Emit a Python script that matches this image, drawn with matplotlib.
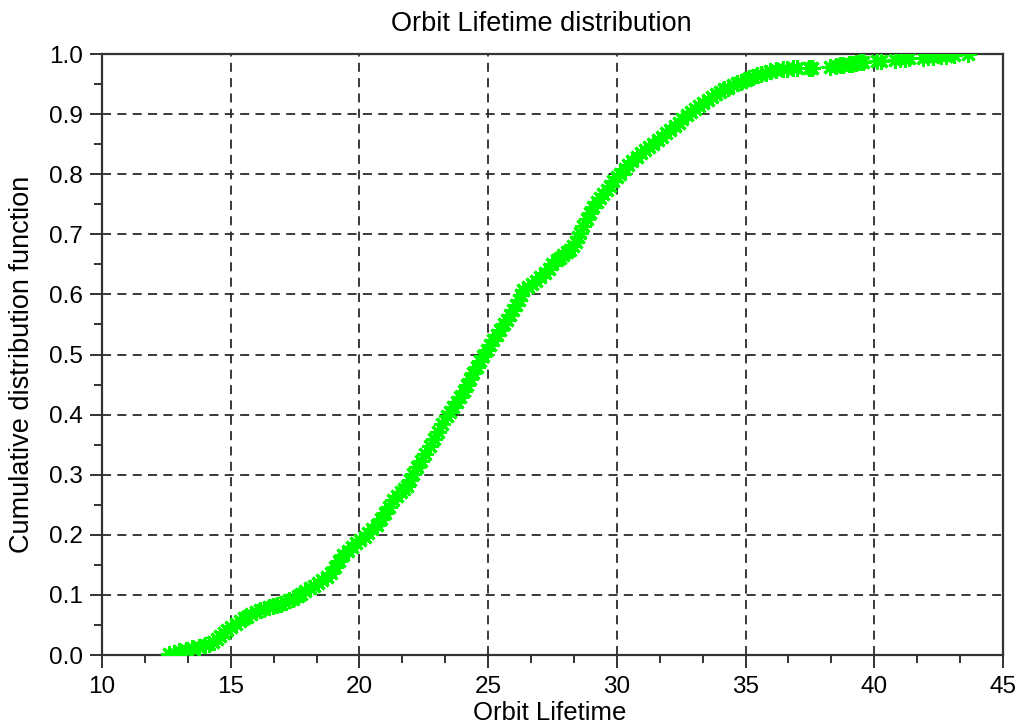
import matplotlib
matplotlib.use("Agg")
import matplotlib.pyplot as plt
from matplotlib.ticker import MultipleLocator, AutoMinorLocator

plt.rcParams["font.family"] = ["Liberation Sans", "DejaVu Sans"]

# sorted orbit lifetimes and their cumulative frequency
lifetime = [
    12.6, 12.8, 13.0, 13.25, 13.5, 13.75, 14.0, 14.15, 14.3, 14.45, 14.6, 14.72,
    14.84, 15.0, 15.2, 15.35, 15.5, 15.65, 15.8, 16.0, 16.14, 16.3, 16.5, 16.65,
    16.8, 16.95, 17.1, 17.25, 17.43, 17.6, 17.75, 17.9, 18.08, 18.25, 18.4, 18.55,
    18.73, 18.9, 19.05, 19.2, 19.37, 19.55, 19.7, 19.85, 20.02, 20.2, 20.35, 20.5,
    20.67, 20.85, 21.0, 21.15, 21.32, 21.45, 21.6, 21.72, 21.84, 21.95, 22.09, 22.25,
    22.4, 22.55, 22.74, 22.9, 23.05, 23.2, 23.39, 23.52, 23.65, 23.78, 23.91, 24.05,
    24.17, 24.3, 24.43, 24.57, 24.7, 24.82, 24.95, 25.08, 25.2, 25.33, 25.46, 25.6,
    25.72, 25.85, 25.98, 26.08, 26.18, 26.28, 26.37, 26.55, 26.7, 26.85, 27.02, 27.2,
    27.35, 27.5, 27.67, 27.8, 27.9, 28.05, 28.18, 28.3, 28.4, 28.5, 28.57, 28.7,
    28.85, 28.97, 29.09, 29.22, 29.35, 29.48, 29.61, 29.74, 29.87, 30.0, 30.12, 30.3,
    30.45, 30.6, 30.77, 30.95, 31.1, 31.25, 31.42, 31.6, 31.75, 31.9, 32.07, 32.25,
    32.4, 32.55, 32.72, 32.9, 33.05, 33.2, 33.36, 33.55, 33.7, 33.85, 34.01, 34.17,
    34.33, 34.5, 34.66, 34.83, 35.0, 35.15, 35.3, 35.45, 35.6, 35.8, 35.95, 36.2,
    36.47, 36.6, 36.85, 37.0, 37.45, 37.6, 38.3, 38.5, 38.65, 38.8, 39.0, 39.15,
    39.3, 39.45, 39.55, 40.1, 40.25, 40.8, 41.0, 41.2, 41.35, 41.9, 42.1, 42.3,
    42.6, 42.8, 43.1, 43.65,
]
cdf = [
    0.002, 0.004, 0.006, 0.009, 0.012, 0.014, 0.017, 0.019, 0.022, 0.027, 0.032, 0.037,
    0.042, 0.046, 0.052, 0.057, 0.061, 0.064, 0.068, 0.072, 0.075, 0.077, 0.080, 0.082,
    0.083, 0.085, 0.088, 0.091, 0.094, 0.098, 0.102, 0.106, 0.111, 0.115, 0.120, 0.125,
    0.130, 0.137, 0.146, 0.156, 0.166, 0.173, 0.180, 0.186, 0.191, 0.197, 0.203, 0.209,
    0.216, 0.226, 0.237, 0.247, 0.258, 0.265, 0.272, 0.277, 0.282, 0.291, 0.302, 0.312,
    0.323, 0.335, 0.347, 0.359, 0.371, 0.384, 0.397, 0.405, 0.413, 0.421, 0.430, 0.440,
    0.450, 0.460, 0.469, 0.479, 0.489, 0.498, 0.507, 0.516, 0.524, 0.533, 0.541, 0.550,
    0.558, 0.566, 0.574, 0.582, 0.590, 0.599, 0.607, 0.612, 0.618, 0.623, 0.629, 0.636,
    0.643, 0.650, 0.657, 0.661, 0.665, 0.670, 0.674, 0.681, 0.688, 0.695, 0.702, 0.714,
    0.726, 0.736, 0.746, 0.753, 0.760, 0.767, 0.774, 0.781, 0.788, 0.795, 0.801, 0.808,
    0.815, 0.822, 0.829, 0.835, 0.840, 0.846, 0.851, 0.857, 0.862, 0.868, 0.874, 0.880,
    0.886, 0.892, 0.898, 0.903, 0.908, 0.913, 0.918, 0.923, 0.928, 0.933, 0.937, 0.941,
    0.944, 0.948, 0.951, 0.954, 0.957, 0.960, 0.962, 0.965, 0.967, 0.969, 0.971, 0.973,
    0.975, 0.975, 0.976, 0.976, 0.977, 0.977, 0.979, 0.980, 0.981, 0.982, 0.983, 0.984,
    0.985, 0.986, 0.987, 0.988, 0.988, 0.990, 0.991, 0.992, 0.993, 0.994, 0.995, 0.995,
    0.996, 0.997, 0.998, 1.0,
]

fig = plt.figure(figsize=(10.2, 7.24), dpi=100)
ax = fig.add_axes([0.1, 0.0953, 0.8833, 0.8301])

ax.plot(lifetime, cdf, color="#00ff00", lw=1.0, marker=(8, 2, 0),
        markersize=12, markeredgewidth=2.2, markeredgecolor="#00ff00", zorder=3)

ax.set_xlim(10, 45)
ax.set_ylim(0, 1)
ax.xaxis.set_major_locator(MultipleLocator(5))
ax.xaxis.set_minor_locator(AutoMinorLocator(3))
ax.yaxis.set_major_locator(MultipleLocator(0.1))
ax.yaxis.set_minor_locator(AutoMinorLocator(2))
ax.yaxis.set_major_formatter(lambda v, p: f"{v:.1f}")

ax.grid(True, which="major", color="#2a2a2a", linestyle=(0, (5, 3.5)), linewidth=1.3)
ax.set_axisbelow(True)

for s in ax.spines.values():
    s.set_linewidth(1.6)
    s.set_color("#333333")

ax.tick_params(which="major", direction="out", length=9, width=1.3, color="#222222",
               labelsize=17.5, pad=5, top=False, right=False)
ax.tick_params(axis="x", which="major", pad=6)
ax.tick_params(which="minor", direction="out", length=6, width=1.3, color="#222222",
               top=False, right=False)

fig.text(541 / 1020, 1 - 24 / 724, "Orbit Lifetime distribution", fontsize=19.5,
         ha="center", va="center")
ax.set_xlabel("Orbit Lifetime", fontsize=18.5)
ax.xaxis.set_label_coords(0.497, -0.077)
ax.set_ylabel("Cumulative distribution function", fontsize=19.5)
ax.yaxis.set_label_coords(-0.074, 0.483)

fig.savefig("out.png", dpi=100)
